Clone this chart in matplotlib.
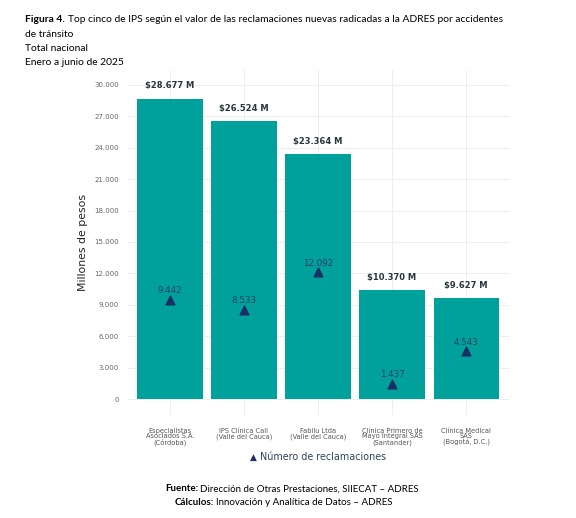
import matplotlib
matplotlib.use('Agg')
from matplotlib import pyplot as plt
from matplotlib.ticker import FuncFormatter
from matplotlib.transforms import offset_copy

# data
ips = ['Especialistas\nAsociados S.A.\n(Córdoba)',
       'IPS Clínica Cali\n(Valle del Cauca)',
       'Fabilu Ltda\n(Valle del Cauca)',
       'Clínica Primero de\nMayo Integral SAS\n(Santander)',
       'Clínica Medical\nSAS\n(Bogotá, D.C.)']
valor = [28677, 26524, 23364, 10370, 9627]   # millones de pesos
reclamaciones = [9442, 8533, 12092, 1437, 4543]
yticks = [0, 3000, 6000, 9000, 12000, 15000, 18000, 21000, 24000, 27000, 30000]

teal = '#00A19B'
navy = '#1B2F66'

def miles(v):
    return '{:,.0f}'.format(v).replace(',', '.')

fig = plt.figure(figsize=(5.76, 5.18), dpi=100)
ax = fig.add_axes([0.2205, 0.1988, 0.6645, 0.6661])

x = list(range(len(ips)))
ax.bar(x, valor, width=0.88, color=teal, zorder=2)
ax.scatter(x, reclamaciones, marker='^', s=40, color=navy, zorder=3)

for xi, v in zip(x, valor):
    ax.annotate('$' + miles(v) + ' M', (xi, v), xytext=(0, 6), textcoords='offset points',
                ha='center', va='bottom', fontsize=6, fontweight='bold', color='#26363B')
for xi, n in zip(x, reclamaciones):
    ax.annotate(miles(n), (xi, n), xytext=(0, 3.5), textcoords='offset points',
                ha='center', va='bottom', fontsize=6.3, color='#2A3F66')

ax.set_xlim(-0.58, 4.59)
ax.set_ylim(-1530, 31430)
ax.set_yticks(yticks)
ax.yaxis.set_major_formatter(FuncFormatter(lambda v, p: miles(v)))
ax.set_xticks(x)
ax.set_xticklabels(ips, fontsize=4.8, color='#555555', linespacing=0.95)
ax.tick_params(axis='y', labelsize=5, labelcolor='#666666', length=0, pad=6)
ax.tick_params(axis='x', length=0, pad=9)
for s in ax.spines.values():
    s.set_visible(False)
ax.grid(True, color='#EBEBEB', linewidth=0.6, zorder=0)
ax.set_axisbelow(True)
ax.set_ylabel('Millones de pesos', fontsize=7.8, color='#222222', labelpad=4)

# legend
fig.text(0.440, 0.117, '\u25B2', fontsize=6.5, color=navy, ha='center', va='center')
fig.text(0.452, 0.117, 'Número de reclamaciones', fontsize=6.9, color='#2A4560', ha='left', va='center')

# titles
fs = 7.4
fig.canvas.draw()
r = fig.canvas.get_renderer()
t = fig.text(0.043, 0.962, 'Figura 4.', fontsize=fs, fontweight='bold', family='Lato', ha='left', va='center')
w = t.get_window_extent(r).width
fig.text(0.043, 0.962, 'Top cinco de IPS según el valor de las reclamaciones nuevas radicadas a la ADRES por accidentes',
         fontsize=fs, family='Lato', ha='left', va='center',
         transform=offset_copy(fig.transFigure, fig=fig, x=w + 3, y=0, units='dots'))
fig.text(0.043, 0.934, 'de tránsito', fontsize=fs, family='Lato', ha='left', va='center')
fig.text(0.043, 0.907, 'Total nacional', fontsize=fs, family='Lato', ha='left', va='center')
fig.text(0.043, 0.880, 'Enero a junio de 2025', fontsize=fs, family='Lato', ha='left', va='center')

# source
fig.text(0.287, 0.056, 'Fuente:', fontsize=7, fontweight='bold', family='Lato', ha='left', va='center')
fig.text(0.348, 0.056, 'Dirección de Otras Prestaciones, SIIECAT – ADRES', fontsize=7, family='Lato', ha='left', va='center')
fig.text(0.303, 0.029, 'Cálculos:', fontsize=7, fontweight='bold', family='Lato', ha='left', va='center')
fig.text(0.375, 0.029, 'Innovación y Analítica de Datos – ADRES', fontsize=7, family='Lato', ha='left', va='center')

fig.savefig('out.png', dpi=100, facecolor='white')
